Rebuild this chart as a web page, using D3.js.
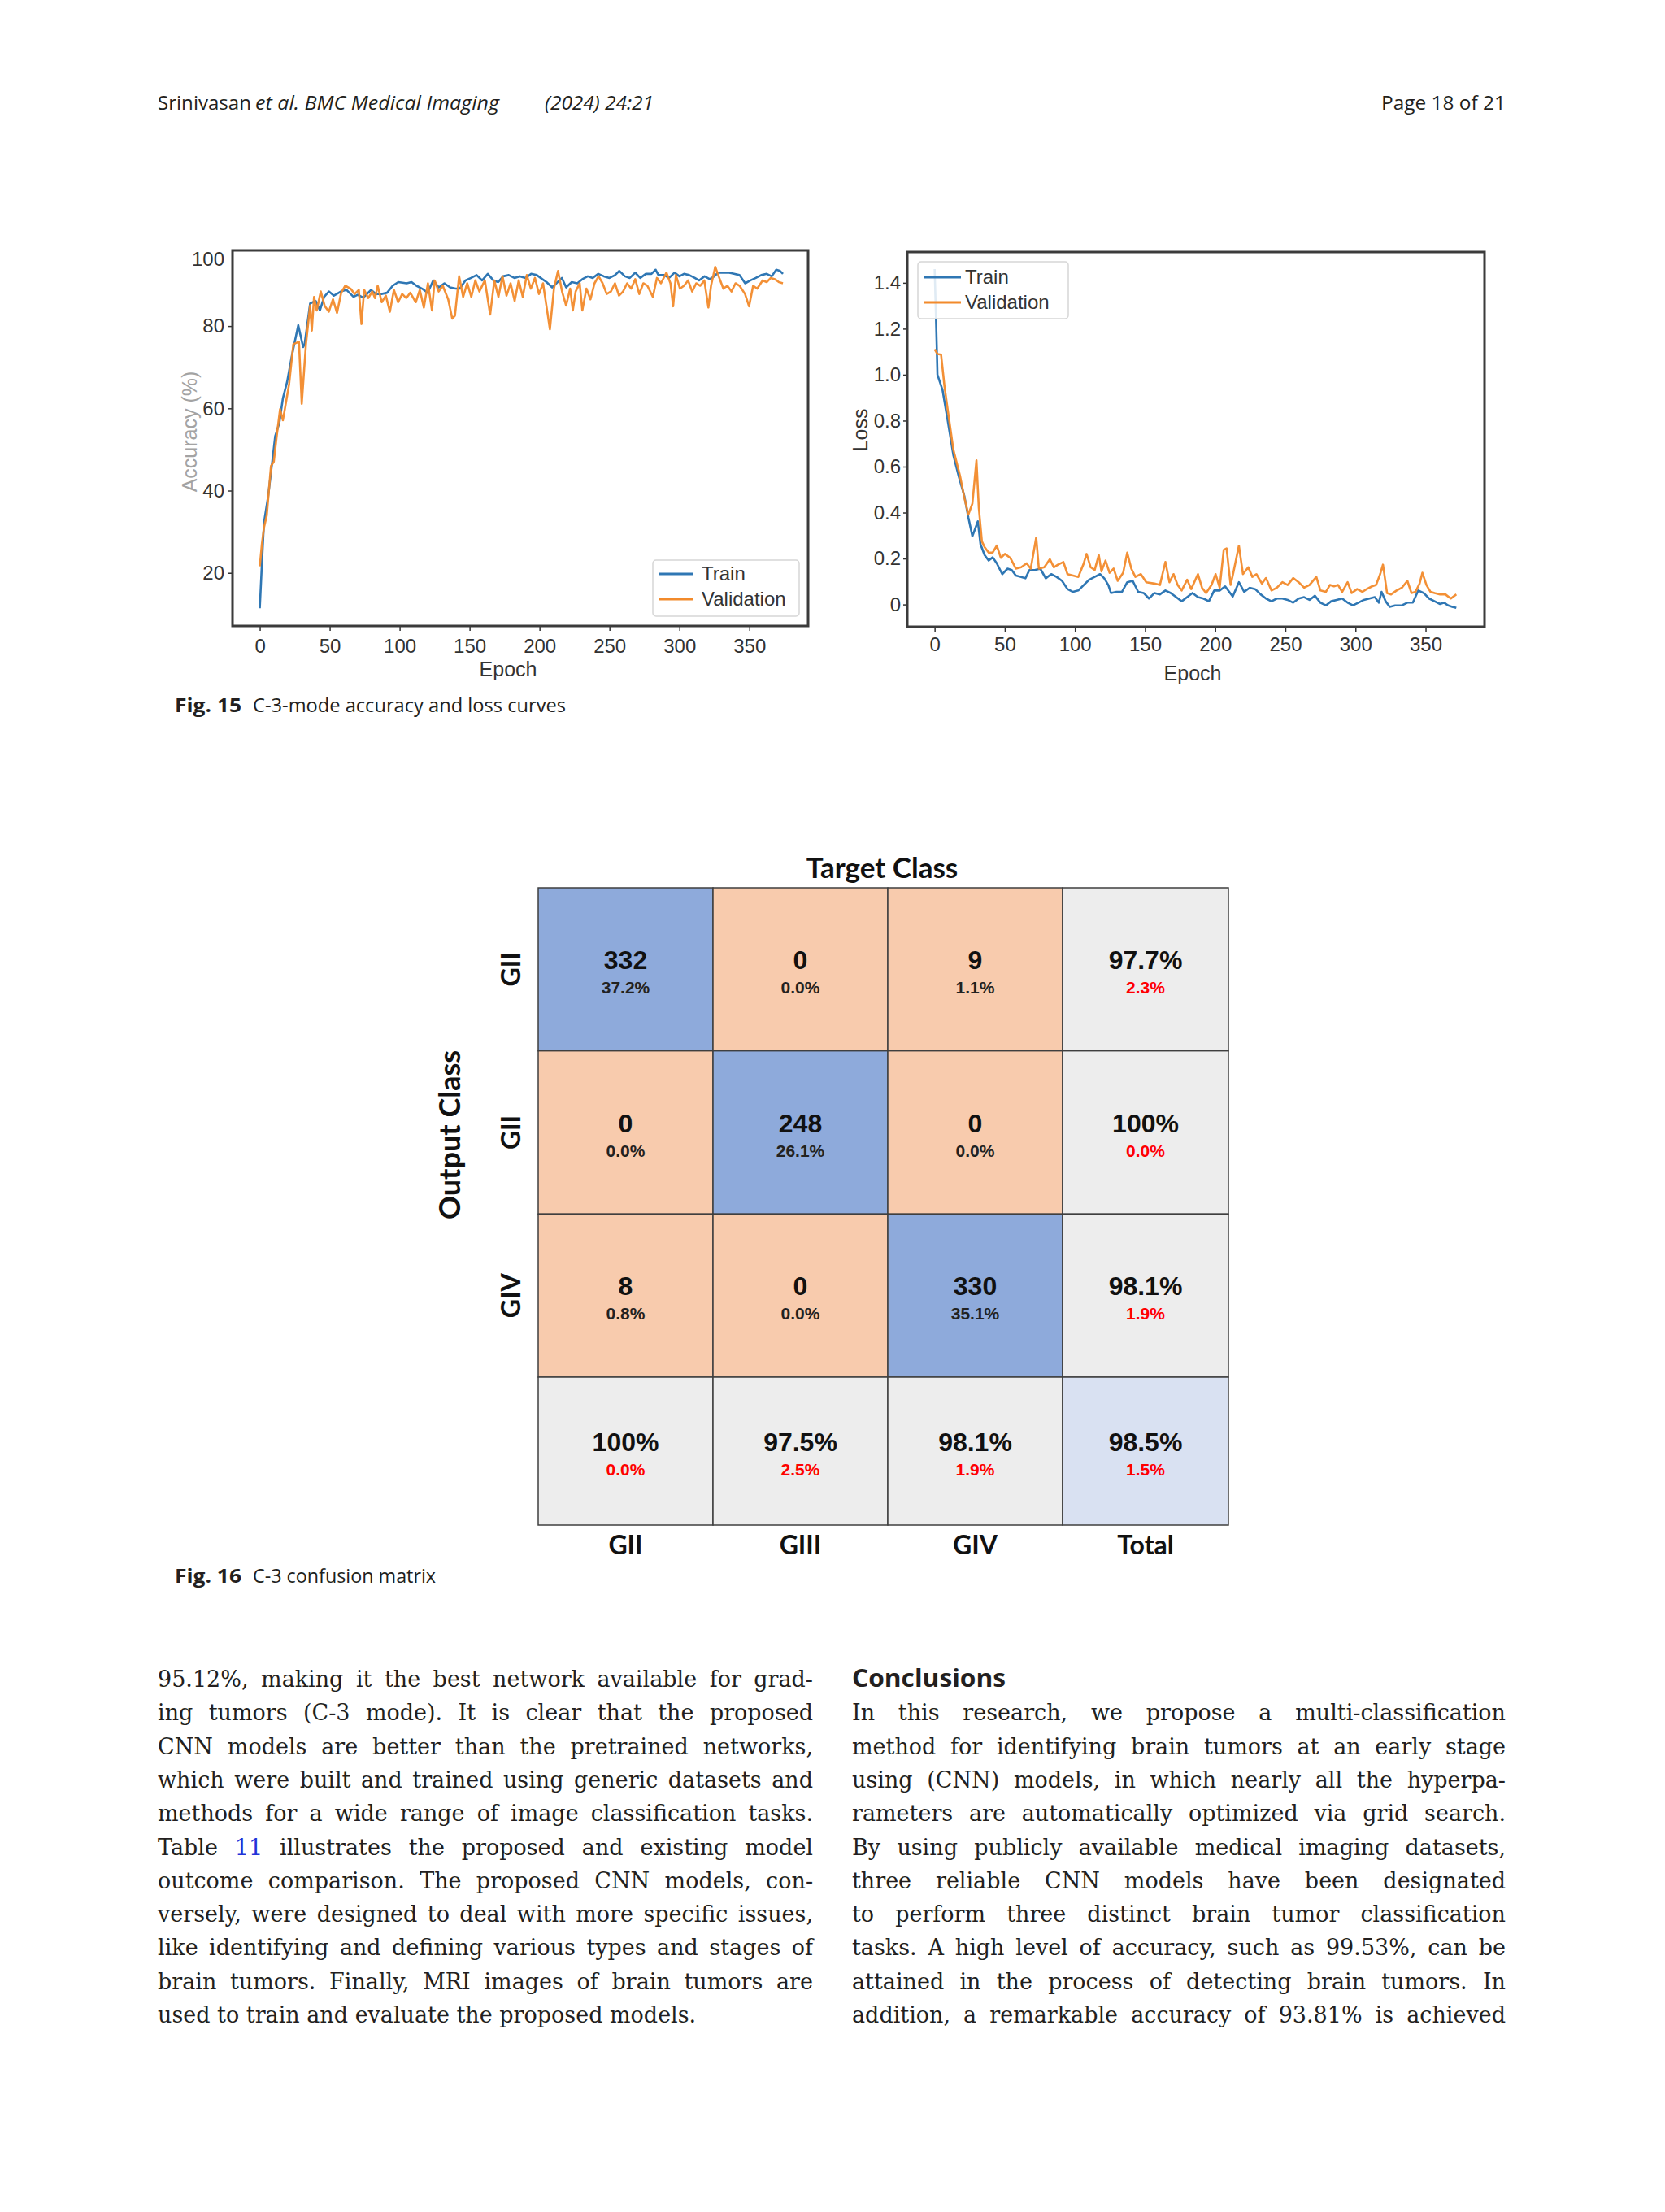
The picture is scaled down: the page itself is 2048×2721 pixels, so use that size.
<!DOCTYPE html>
<html><head><meta charset="utf-8">
<script src="https://cdn.jsdelivr.net/npm/d3@7"></script>
<style>
html,body{margin:0;padding:0;background:#fff;}
svg{display:block;}
</style></head><body>
<svg id="page" width="2048" height="2721"></svg>
<script>
// ---------------- DATA ----------------
const epochTicks = [0, 50, 100, 150, 200, 250, 300, 350];
const accTicks = [20, 40, 60, 80, 100];
const lossTicks = [0, 0.2, 0.4, 0.6, 0.8, 1.0, 1.2, 1.4];
const seriesNames = ["Train", "Validation"];

const accTrain = [[0,11.4],[1.5,22.2],[3,32.2],[6,38.7],[9,47.3],[11,53.2],[14,56.5],[16.5,62.4],[19.5,66.4],[23,72.9],[27.5,80.2],[31,74.9],[32,75.5],[36,85.5],[40,86.1],[43,83.8],[46,87.1],[49.4,88.4],[53,87.4],[58,88.4],[62,88.8],[67,87.1],[70,87.6],[74,86.9],[79.5,88.8],[83,87.8],[87,87.8],[91,88.1],[95,89.8],[99,90.7],[105,90.4],[108.5,90.7],[112,89.8],[116,89.1],[120,88.1],[124,91.1],[128,89.4],[132,90.4],[136,89.4],[140,89.1],[143,89.1],[147,91.1],[151,91.7],[155,92.4],[159,91.1],[163,92.7],[167,91.1],[170.5,90.7],[174,92.1],[178,92.4],[182,91.7],[186,92.1],[190,91.7],[194,92.7],[198,92.4],[202,91.4],[205,90.7],[209,89.4],[212,90.4],[216,91.7],[219,89.4],[223,90.7],[227,90.4],[230.6,91.4],[234.5,92.1],[238,91.7],[242,92.7],[246,92.1],[250,91.7],[254,92.4],[257,93.4],[261,92.1],[264.5,91.7],[268.4,93.0],[272,91.7],[276,92.7],[280,92.7],[283,93.7],[285,92.4],[289,92.4],[292.6,91.7],[296.5,93.0],[300,92.1],[303.3,92.7],[307,92.4],[311,91.7],[314,91.1],[318,92.1],[321.7,91.4],[325,92.1],[327.5,93.0],[331,93.0],[335,93.0],[339,92.7],[343,92.4],[347,90.4],[350.8,91.1],[354.6,91.7],[358.5,92.4],[362.4,92.7],[366,92.1],[369.2,93.7],[372,93.4],[374,92.7]];

const accVal = [[0,21.6],[1.5,27],[3,31],[5,34],[8,46],[10,47],[12,53],[14.5,59.8],[16.5,57.1],[18,60],[21,66],[24,75.6],[28,76.2],[30,61.1],[33,75.6],[36,85],[37.2,78.9],[38.8,87.1],[40.7,83.8],[43.6,88.4],[46.5,84.8],[49.4,83.5],[52.3,86.5],[55.2,83.2],[58.2,88.1],[61.1,89.8],[64.9,89.1],[67.8,87.8],[70.8,88.8],[72.7,80.5],[74.6,88.8],[77.5,86.8],[80.4,88.4],[82.4,86.8],[84.3,89.8],[87.2,85.8],[90.1,87.4],[93,83.5],[95.9,88.8],[98.9,85.8],[101.8,87.8],[104.7,86.8],[107.6,88.1],[111.5,85.8],[114.4,88.8],[117.3,84.5],[120.2,90.4],[123.1,83.8],[125,91.1],[127.9,88.4],[130.8,89.8],[134.7,86.5],[137.6,81.8],[139.5,82.5],[142.5,92.1],[145.4,87.1],[148.3,90.4],[151.2,87.1],[154.1,91.1],[157,88.4],[160.9,91.1],[164.7,82.8],[167.7,91.1],[170.6,87.1],[173.5,92.1],[176.4,87.4],[179.3,90.4],[182.2,86.1],[185.1,91.1],[188,87.1],[190.9,92.4],[193.8,89.1],[196.7,91.7],[199.6,87.8],[202.5,90.4],[205.4,83.8],[207.4,79.2],[210.3,89.1],[213.2,93.4],[216.1,88.4],[219,85],[221.9,89.1],[223.8,83.8],[225.8,88.4],[228.7,90.4],[230.6,83.8],[233.5,89.1],[236.4,86.5],[239.3,90.4],[242.2,92.1],[245.1,90.4],[248,87.8],[251,88.4],[253.9,90.4],[256.8,87.4],[259.7,88.4],[262.6,90.4],[265.5,89.1],[268.4,91.4],[271.3,87.8],[274.2,90.4],[277.1,89.8],[281,87.1],[283.9,91.7],[286.8,90.4],[290.7,93.0],[293.6,90.4],[295.5,84.8],[297.5,92.4],[300.4,89.1],[303.3,89.8],[306.2,91.1],[309.1,88.4],[312,90.4],[314.9,89.8],[317.8,91.1],[320.7,84.5],[322.6,89.8],[325.6,94.4],[328.5,91.7],[331.4,89.1],[334.3,89.8],[337.2,88.4],[340.1,90.4],[343,89.8],[346.9,87.8],[349.8,84.8],[352.7,89.8],[355.6,89.1],[359.5,91.1],[362.4,90.7],[365.3,91.7],[368.2,91.4],[371.1,90.7],[374,90.4]];

const lossTrain = [[0,1.46],[1,1.24],[2,1.0],[5.6,0.934],[9.5,0.793],[13.3,0.651],[17.2,0.557],[21.1,0.474],[24,0.38],[26.9,0.297],[29.5,0.34],[30.8,0.362],[32.7,0.262],[35.6,0.215],[38.5,0.191],[41.4,0.205],[44.3,0.179],[48.2,0.132],[52,0.156],[55,0.15],[57.9,0.126],[61.7,0.12],[64.7,0.114],[67.6,0.15],[71.4,0.15],[75.3,0.156],[79.2,0.114],[83.1,0.132],[86.9,0.12],[90.8,0.103],[94.7,0.067],[98.6,0.055],[102.4,0.061],[106.3,0.085],[110.2,0.108],[114.1,0.12],[117.9,0.132],[120.9,0.114],[123.8,0.085],[125.7,0.05],[129.6,0.055],[133.5,0.055],[137.3,0.097],[141.2,0.103],[145.1,0.055],[149,0.05],[152.8,0.026],[156.7,0.05],[160.6,0.044],[164.5,0.061],[168.3,0.05],[172.2,0.032],[176.1,0.014],[180,0.032],[183.8,0.05],[187.7,0.032],[191.6,0.026],[195.5,0.014],[199.3,0.061],[203.2,0.061],[207.1,0.079],[210,0.055],[212.5,0.035],[216.9,0.097],[220.7,0.055],[224.6,0.073],[228.5,0.067],[232.4,0.044],[236.2,0.026],[240.1,0.014],[244,0.026],[247.9,0.026],[251.7,0.02],[255.6,0.008],[259.5,0.026],[263.4,0.032],[267.2,0.02],[271.1,0.038],[275,0.008],[278.9,-0.004],[282.7,0.014],[286.6,0.02],[290.5,0.026],[294.4,0.008],[298.2,-0.004],[302.1,0.008],[306,0.02],[309.9,0.026],[313.8,0.032],[316.6,0.008],[318.6,0.055],[321.5,0.014],[324.4,-0.01],[328.3,-0.004],[333.1,-0.004],[337,0.008],[340.9,0.008],[344.8,0.061],[348.6,0.05],[352.5,0.026],[356.4,0.014],[360.3,0.002],[363.2,0.008],[366.1,-0.004],[369,-0.01],[371.9,-0.015]];

const lossVal = [[0,1.111],[2,1.09],[4.6,1.087],[7,0.95],[9.5,0.84],[13.3,0.675],[18.2,0.557],[21,0.47],[24,0.391],[26.9,0.439],[29.8,0.627],[31.5,0.42],[33.7,0.274],[35.6,0.25],[38.5,0.226],[41.4,0.226],[44.3,0.256],[47.2,0.203],[50.1,0.22],[53.9,0.203],[57.9,0.156],[61.7,0.162],[65.6,0.179],[68.5,0.156],[72.4,0.291],[74.3,0.156],[78.2,0.162],[82.1,0.197],[85,0.162],[87.9,0.173],[91.8,0.185],[94.7,0.132],[98.6,0.126],[102.4,0.12],[106.3,0.179],[108.3,0.22],[111.2,0.162],[114.1,0.15],[117,0.215],[118.9,0.144],[121.8,0.191],[124.7,0.138],[127.6,0.156],[130.5,0.103],[134.4,0.138],[137.3,0.226],[140.2,0.156],[143.1,0.12],[147,0.132],[150.9,0.097],[156.7,0.091],[160.6,0.085],[164.5,0.185],[167.4,0.097],[170.3,0.132],[173.2,0.085],[176.1,0.061],[180,0.108],[182.9,0.067],[187.7,0.132],[190.6,0.073],[193.5,0.05],[197.4,0.085],[200.3,0.132],[203.2,0.073],[206.1,0.238],[208.1,0.244],[211,0.085],[213,0.14],[216.9,0.256],[219.8,0.132],[223.6,0.162],[226.5,0.12],[229.4,0.132],[233.3,0.091],[236.2,0.115],[240.1,0.061],[244,0.073],[247.9,0.097],[251.7,0.085],[255.6,0.115],[259.5,0.097],[263.4,0.073],[267.2,0.085],[272.1,0.12],[275,0.061],[278.9,0.055],[281.8,0.085],[284.7,0.079],[287.6,0.085],[290.5,0.055],[294.4,0.097],[297.3,0.05],[301.2,0.067],[305,0.055],[308,0.067],[311.8,0.079],[314.7,0.085],[317.6,0.132],[319.6,0.173],[322.5,0.05],[325.4,0.044],[329.3,0.061],[333.1,0.073],[337,0.103],[339.9,0.05],[342.8,0.055],[345.7,0.091],[347.7,0.138],[350.6,0.085],[353.5,0.055],[356.4,0.05],[360.3,0.044],[364.1,0.044],[368,0.026],[371.9,0.044]];

// confusion matrix
const targetLabels = ["GII", "GIII", "GIV", "Total"];
const outputLabels = ["GII", "GII", "GIV"];
const cmCounts = [[332, 0, 9], [0, 248, 0], [8, 0, 330]];
const cmPercents = ["37.2%", "0.0%", "1.1%", "0.0%", "26.1%", "0.0%", "0.8%", "0.0%", "35.1%"];
const rowAcc = ["97.7%", "100%", "98.1%"];
const rowErr = ["2.3%", "0.0%", "1.9%"];
const colAcc = ["100%", "97.5%", "98.1%"];
const colErr = ["0.0%", "2.5%", "1.9%"];
const totalAcc = "98.5%";
const totalErr = "1.5%";

// text
const leftLines = [
 "95.12%, making it the best network available for grad-",
 "ing tumors (C-3 mode). It is clear that the proposed",
 "CNN models are better than the pretrained networks,",
 "which were built and trained using generic datasets and",
 "methods for a wide range of image classification tasks.",
 "Table 11 illustrates the proposed and existing model",
 "outcome comparison. The proposed CNN models, con-",
 "versely, were designed to deal with more specific issues,",
 "like identifying and defining various types and stages of",
 "brain tumors. Finally, MRI images of brain tumors are",
 "used to train and evaluate the proposed models."
];
const rightLines = [
 "In this research, we propose a multi-classification",
 "method for identifying brain tumors at an early stage",
 "using (CNN) models, in which nearly all the hyperpa-",
 "rameters are automatically optimized via grid search.",
 "By using publicly available medical imaging datasets,",
 "three reliable CNN models have been designated",
 "to perform three distinct brain tumor classification",
 "tasks. A high level of accuracy, such as 99.53%, can be",
 "attained in the process of detecting brain tumors. In",
 "addition, a remarkable accuracy of 93.81% is achieved"
];

// ---------------- DRAW ----------------
const svg = d3.select("#page");
const SANS = "'Open Sans', 'Noto Sans', sans-serif";
const ARIAL = "'Liberation Sans', Arial, sans-serif";
const TEXTC = "#231f20";

function fitText(g, x, y, str, w, attrs) {
  const t = g.append("text").attr("x", x).attr("y", y).text(str)
    .attr("textLength", w).attr("lengthAdjust", "spacingAndGlyphs");
  for (const k in attrs) t.attr(k, attrs[k]);
  return t;
}

// header
const hdr = svg.append("g").attr("font-family", SANS).attr("font-size", 24).attr("fill", TEXTC);
fitText(hdr, 194, 135, "Srinivasan", 115, {});
fitText(hdr, 314, 135, "et al. BMC Medical Imaging", 300, {"font-style": "italic"});
fitText(hdr, 670, 135, "(2024) 24:21", 134, {"font-style": "italic"});
fitText(hdr, 1699, 135, "Page 18 of 21", 153, {});

const BLUE = "#2f77b4", ORANGE = "#f28a2b";

function lineChart(o) {
  const g = svg.append("g");
  const x = d3.scaleLinear().domain(o.xDomain).range([o.left, o.right]);
  const y = d3.scaleLinear().domain(o.yDomain).range([o.bottom, o.top]);
  const xa = g.append("g").attr("transform", `translate(0,${o.bottom})`)
    .call(d3.axisBottom(x).tickValues(epochTicks).tickSize(6).tickPadding(o.xPad));
  const ya = g.append("g").attr("transform", `translate(${o.left},0)`)
    .call(d3.axisLeft(y).tickValues(o.yTicks).tickFormat(o.fmt).tickSize(5).tickPadding(o.yPad));
  [xa, ya].forEach(a => {
    a.select(".domain").remove();
    a.selectAll("text").attr("font-family", ARIAL).attr("font-size", 24).attr("fill", "#333");
    a.selectAll("line").attr("stroke", "#333").attr("stroke-width", 1.5);
  });
  const line = d3.line().x(d => x(d[0])).y(d => y(d[1]));
  const clipId = "clip" + o.id;
  g.append("clipPath").attr("id", clipId).append("rect")
    .attr("x", o.left).attr("y", o.top).attr("width", o.right - o.left).attr("height", o.bottom - o.top);
  const pg = g.append("g").attr("clip-path", `url(#${clipId})`);
  pg.append("path").datum(o.train).attr("d", line).attr("fill", "none")
    .attr("stroke", BLUE).attr("stroke-width", 2.6).attr("stroke-linejoin", "round");
  pg.append("path").datum(o.val).attr("d", line).attr("fill", "none")
    .attr("stroke", ORANGE).attr("stroke-width", 2.6).attr("stroke-linejoin", "round").attr("stroke-opacity", 0.95);
  g.append("rect").attr("x", o.left).attr("y", o.top).attr("width", o.right - o.left).attr("height", o.bottom - o.top)
    .attr("fill", "none").attr("stroke", "#3b3b3b").attr("stroke-width", 3);
  // axis titles
  g.append("text").attr("x", (o.left + o.right) / 2 + o.xLabelDx).attr("y", o.xLabelY)
    .attr("text-anchor", "middle").attr("font-family", ARIAL).attr("font-size", 25).attr("fill", "#333").text("Epoch");
  g.append("text").attr("transform", `translate(${o.yLabelX},${o.yLabelY}) rotate(-90)`)
    .attr("text-anchor", "middle").attr("dy", "0.35em").attr("font-family", ARIAL).attr("font-size", 25)
    .attr("fill", o.yLabelColor).text(o.yLabel);
  // legend
  const L = o.legend;
  const lg = g.append("g");
  lg.append("rect").attr("x", L.x).attr("y", L.y).attr("width", L.w).attr("height", L.h).attr("rx", 4)
    .attr("fill", "#fff").attr("fill-opacity", 0.85).attr("stroke", "#d6d6d6").attr("stroke-width", 1.5);
  seriesNames.forEach((nm, i) => {
    const yy = L.y + L.row0 + i * L.rowH;
    lg.append("line").attr("x1", L.x + L.lx0).attr("x2", L.x + L.lx1).attr("y1", yy).attr("y2", yy)
      .attr("stroke", i === 0 ? BLUE : ORANGE).attr("stroke-width", 3);
    lg.append("text").attr("x", L.x + L.tx).attr("y", yy).attr("dy", "0.35em")
      .attr("font-family", ARIAL).attr("font-size", 24).attr("fill", "#333").text(nm);
  });
  return {g, x, y, ya};
}

const acc = lineChart({
  id: "acc", left: 286, right: 994, top: 308, bottom: 770,
  xDomain: [-19.5, 392], yDomain: [7.1, 98.4], yTicks: accTicks, fmt: d3.format("d"),
  train: accTrain, val: accVal, xPad: 10, yPad: 5,
  xLabelDx: -15, xLabelY: 832, yLabel: "Accuracy (%)", yLabelX: 233, yLabelY: 531, yLabelColor: "#a3a3a3",
  legend: {x: 803, y: 689, w: 180, h: 69, row0: 17, rowH: 31, lx0: 7, lx1: 49, tx: 60}
});
// top tick label sits just inside the frame top in the reference
acc.ya.selectAll(".tick").filter(d => d === 100)
  .attr("transform", `translate(0,${acc.y(acc.y.domain()[1]) + 11})`)
  .select("line").remove();

lineChart({
  id: "loss", left: 1116, right: 1826, top: 310, bottom: 771,
  xDomain: [-19.5, 392], yDomain: [-0.097, 1.534], yTicks: lossTicks,
  fmt: d => d === 0 ? "0" : d.toFixed(1),
  train: lossTrain, val: lossVal, xPad: 7, yPad: 3,
  xLabelDx: -4, xLabelY: 837, yLabel: "Loss", yLabelX: 1058, yLabelY: 529, yLabelColor: "#333",
  legend: {x: 1129, y: 322, w: 185, h: 70, row0: 19, rowH: 31, lx0: 8, lx1: 53, tx: 58}
});

// captions
const cap = svg.append("g").attr("font-family", SANS).attr("font-size", 24).attr("fill", TEXTC);
fitText(cap, 215, 876, "Fig. 15", 82, {"font-weight": 700});
fitText(cap, 311, 876, "C-3-mode accuracy and loss curves", 385, {});
fitText(cap, 215, 1947, "Fig. 16", 82, {"font-weight": 700});
fitText(cap, 311, 1947, "C-3 confusion matrix", 225, {});

// ---------------- confusion matrix ----------------
const cm = svg.append("g");
const colX = d3.scaleBand().domain(d3.range(3)).range([662, 1307]);
const rowY = d3.scaleBand().domain(d3.range(3)).range([1092, 1694]);
const totalColW = 204, totalRowH = 182;
const cx = j => j < 3 ? colX(j) : colX.range()[1];
const cw = j => j < 3 ? colX.bandwidth() : totalColW;
const ry = i => i < 3 ? rowY(i) : rowY.range()[1];
const rh = i => i < 3 ? rowY.bandwidth() : totalRowH;

const cells = [];
for (let i = 0; i < 4; i++) for (let j = 0; j < 4; j++) {
  let main, sub, fill, subColor;
  if (i < 3 && j < 3) {
    main = String(cmCounts[i][j]); sub = cmPercents[i * 3 + j];
    fill = i === j ? "#8eaadb" : "#f8cbad"; subColor = "#222";
  } else if (i < 3) {
    main = rowAcc[i]; sub = rowErr[i]; fill = "#ededed"; subColor = "#ff0000";
  } else if (j < 3) {
    main = colAcc[j]; sub = colErr[j]; fill = "#ededed"; subColor = "#ff0000";
  } else {
    main = totalAcc; sub = totalErr; fill = "#d9e1f2"; subColor = "#ff0000";
  }
  cells.push({i, j, main, sub, fill, subColor});
}
const cg = cm.selectAll("g.cell").data(cells).join("g").attr("class", "cell");
cg.append("rect").attr("x", d => cx(d.j)).attr("y", d => ry(d.i)).attr("width", d => cw(d.j)).attr("height", d => rh(d.i))
  .attr("fill", d => d.fill).attr("stroke", "#3f3f3f").attr("stroke-width", 1.5);
cg.append("text").attr("x", d => cx(d.j) + cw(d.j) / 2).attr("y", d => ry(d.i) + rh(d.i) / 2 - 12)
  .attr("dy", "0.36em").attr("text-anchor", "middle").attr("font-family", ARIAL).attr("font-weight", 700)
  .attr("font-size", 32).attr("fill", "#111").text(d => d.main);
cg.append("text").attr("x", d => cx(d.j) + cw(d.j) / 2).attr("y", d => ry(d.i) + rh(d.i) / 2 + 22)
  .attr("dy", "0.36em").attr("text-anchor", "middle").attr("font-family", ARIAL).attr("font-weight", 700)
  .attr("font-size", 21).attr("fill", d => d.subColor).text(d => d.sub);

const LATO = "Lato, 'Open Sans', sans-serif";
cm.append("text").attr("x", 1085).attr("y", 1067).attr("dy", "0.36em").attr("text-anchor", "middle")
  .attr("font-family", LATO).attr("font-weight", 700).attr("font-size", 35).attr("fill", "#111").text("Target Class");
cm.append("text").attr("transform", "translate(553,1396) rotate(-90)").attr("dy", "0.36em").attr("text-anchor", "middle")
  .attr("font-family", LATO).attr("font-weight", 700).attr("font-size", 36).attr("fill", "#111").text("Output Class");
cm.selectAll("text.collab").data(targetLabels).join("text").attr("class", "collab")
  .attr("x", (d, j) => cx(j) + cw(j) / 2).attr("y", 1900).attr("dy", "0.36em").attr("text-anchor", "middle")
  .attr("font-family", LATO).attr("font-weight", 700).attr("font-size", 32).attr("fill", "#111").text(d => d);
cm.selectAll("text.rowlab").data(outputLabels).join("text").attr("class", "rowlab")
  .attr("transform", (d, i) => `translate(628,${ry(i) + rh(i) / 2}) rotate(-90)`).attr("dy", "0.36em").attr("text-anchor", "middle")
  .attr("font-family", LATO).attr("font-weight", 700).attr("font-size", 32).attr("fill", "#111").text(d => d);

// ---------------- body text ----------------
const BODY_FS = 27;
function justify(lines, x0, w, y0, lead, justifyLast, blue) {
  const g = svg.append("g").attr("font-family", "'DejaVu Serif', 'Liberation Serif', serif")
    .attr("font-size", BODY_FS).attr("fill", TEXTC);
  lines.forEach((ln, i) => {
    const words = ln.split(" ");
    const yy = y0 + i * lead;
    const ts = words.map(wd => g.append("text").attr("y", yy).text(wd));
    if (blue && blue.line === i) ts.forEach((t, k) => { if (words[k] === blue.word) t.attr("fill", "#2233d8"); });
    const ws = ts.map(t => t.node().getComputedTextLength());
    const sum = d3.sum(ws);
    const last = (i === lines.length - 1) && !justifyLast;
    let gap = last ? 0.318 * BODY_FS : (w - sum) / (words.length - 1);
    let k = 1;
    if (!last && gap < 5) { gap = 5; k = (w - gap * (words.length - 1)) / sum; }
    let xx = x0;
    ts.forEach((t, n) => {
      t.attr("x", xx);
      if (k !== 1) t.attr("textLength", ws[n] * k).attr("lengthAdjust", "spacingAndGlyphs");
      xx += ws[n] * k + gap;
    });
  });
}
const LEAD = 41.3;
justify(leftLines, 194, 806, 2075, LEAD, false, {line: 5, word: "11"});
justify(rightLines, 1048, 804, 2075 + LEAD, LEAD, true, null);
fitText(svg.append("g").attr("font-family", SANS).attr("font-size", 31).attr("font-weight", 700).attr("fill", TEXTC),
  1048, 2075, "Conclusions", 189, {});
</script>
</body></html>
